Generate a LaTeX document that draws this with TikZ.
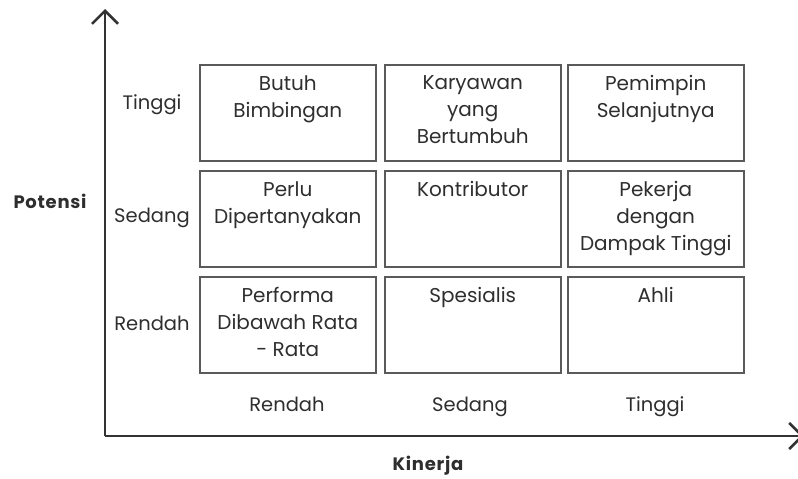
\documentclass[tikz,border=0pt]{standalone}
\usepackage{fontspec}
\setmainfont{Poppins}
\usetikzlibrary{arrows.meta}
\definecolor{boxgray}{HTML}{5A5A5A}
\definecolor{axisc}{HTML}{333333}
\definecolor{textc}{HTML}{2E2E2E}
\tikzset{
  cell/.style={draw=boxgray, line width=1.5pt, minimum width=176pt, minimum height=96pt, inner sep=0pt, anchor=north west},
  ctext/.style={anchor=north, align=center, font=\fontsize{20}{27}\selectfont, text=textc, inner sep=0pt},
  lab/.style={font=\fontsize{19.5}{22}\selectfont, text=textc, inner sep=0pt, text height=16pt, text depth=3pt},
  axlab/.style={font=\fontsize{18}{20}\selectfont\bfseries\addfontfeatures{LetterSpace=4}, text=textc, inner sep=0pt},
  axis/.style={draw=axisc, line width=2.5pt, -{Straight Barb[length=13pt,width=26pt,line width=2.5pt]}}
}
\begin{document}
\begin{tikzpicture}[x=1pt,y=-1pt]
\useasboundingbox (0,0) rectangle (798,479);
\coordinate (O) at (105,436);
\coordinate (ytop) at (105,9);
\coordinate (xend) at (804,436);
\draw[axis] (O) -- (ytop);
\draw[axis] (O) -- (xend);
% cells
\node[cell] (c11) at (199,64) {};
\node[cell] (c12) at (384,64) {};
\node[cell] (c13) at (567,64) {};
\node[cell] (c21) at (199,170) {};
\node[cell] (c22) at (384,170) {};
\node[cell] (c23) at (567,170) {};
\node[cell] (c31) at (199,276) {};
\node[cell] (c32) at (384,276) {};
\node[cell] (c33) at (567,276) {};
% texts
\node[ctext] (t11) at ([yshift=-11pt]c11.north) {Butuh\\Bimbingan};
\node[ctext] (t12) at ([yshift=-11pt]c12.north) {Karyawan\\yang\\Bertumbuh};
\node[ctext] (t13) at ([yshift=-11pt]c13.north) {Pemimpin\\Selanjutnya};
\node[ctext] (t21) at ([yshift=-11pt]c21.north) {Perlu\\Dipertanyakan};
\node[ctext] (t22) at ([yshift=-11pt]c22.north) {Kontributor};
\node[ctext] (t23) at ([yshift=-11pt]c23.north) {Pekerja\\dengan\\Dampak Tinggi};
\node[ctext] (t31) at ([yshift=-11pt]c31.north) {Performa\\Dibawah Rata\\- Rata};
\node[ctext] (t32) at ([yshift=-11pt]c32.north) {Spesialis};
\node[ctext] (t33) at ([yshift=-11pt]c33.north) {Ahli};
% row labels
\node[lab] (rt) at (152,103) {Tinggi};
\node[lab] (rs) at (152,216) {Sedang};
\node[lab] (rr) at (152,324) {Rendah};
% column labels
\node[lab] (kr) at (287,405) {Rendah};
\node[lab] (ks) at (470,405) {Sedang};
\node[lab] (kt) at (655,405) {Tinggi};
% axis labels
\node[axlab] (pot) at (50,201) {Potensi};
\node[axlab] (kin) at (428,466) {Kinerja};
\end{tikzpicture}
\end{document}
